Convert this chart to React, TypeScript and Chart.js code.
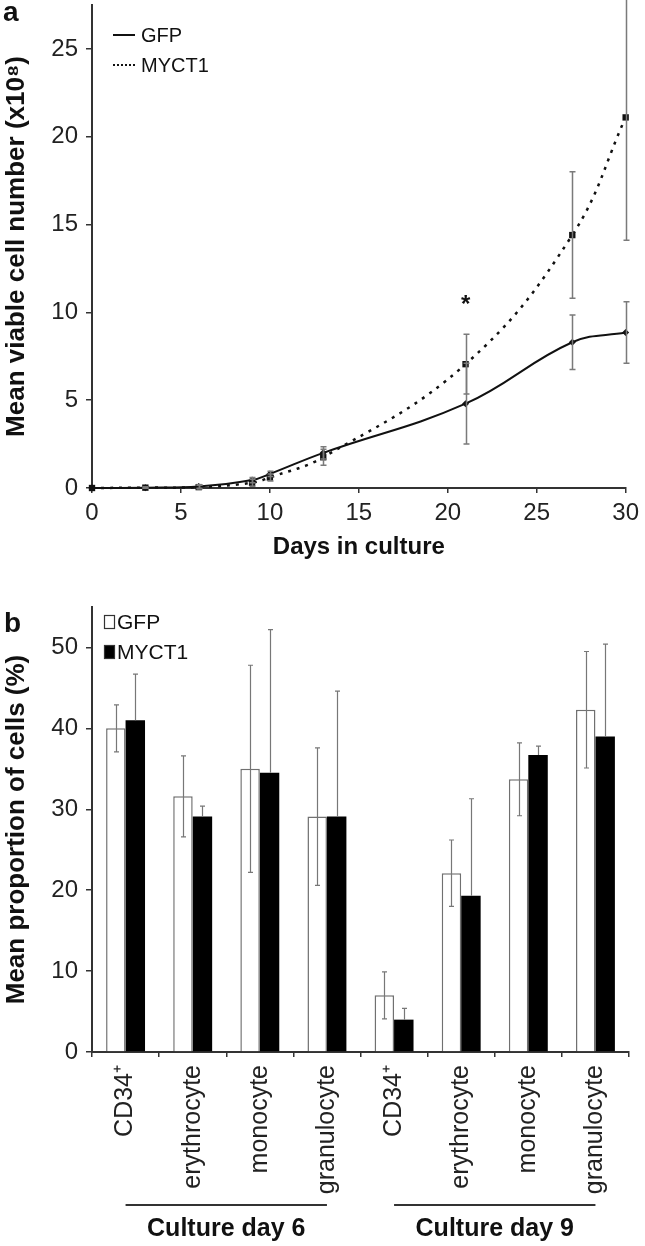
import React, { useEffect, useRef } from 'react';
import { Chart, registerables } from 'chart.js';

Chart.register(...registerables);

const FONT = "'Liberation Sans', Arial, Helvetica, sans-serif";

// ---------- Panel a data ----------
const days = [0, 3, 6, 9, 10, 13, 21, 27, 30];
const gfpCells = [0, 0.02, 0.08, 0.45, 0.8, 2.0, 4.8, 8.3, 8.85];
const gfpCellsErr = [0, 0.03, 0.1, 0.15, 0.15, 0.35, 2.3, 1.55, 1.75];
const myctCells = [0, 0.02, 0.05, 0.3, 0.6, 1.75, 7.05, 14.4, 21.1];
const myctCellsErr = [0, 0.03, 0.1, 0.2, 0.2, 0.45, 1.7, 3.6, 7.0];
const starDays = [21];
const starValues = [10.6];
const cellTicksY = [0, 5, 10, 15, 20, 25];
const dayTicks = [0, 5, 10, 15, 20, 25, 30];

// ---------- Panel b data ----------
const cellTypes = ['CD34⁺', 'erythrocyte', 'monocyte', 'granulocyte', 'CD34⁺', 'erythrocyte', 'monocyte', 'granulocyte'];
const groupNames = ['Culture day 6', 'Culture day 9'];
const groupStart = [0, 4];
const groupEnd = [3, 7];
const gfpProp = [40.0, 31.6, 35.0, 29.1, 7.0, 22.1, 33.7, 42.3];
const gfpPropErr = [2.9, 5.0, 12.8, 8.5, 2.9, 4.1, 4.5, 7.2];
const myctProp = [41.0, 29.1, 34.5, 29.1, 4.0, 19.3, 36.7, 39.0];
const myctPropErr = [5.7, 1.3, 17.7, 15.5, 1.4, 12.0, 1.1, 11.4];
const propTicksY = [0, 10, 20, 30, 40, 50];

const errorBarPlugin = {
  id: 'errorBars',
  afterDatasetsDraw(chart: any) {
    const ctx = chart.ctx;
    chart.data.datasets.forEach((ds: any, i: number) => {
      const errs = ds.errors;
      if (!errs) return;
      const meta = chart.getDatasetMeta(i);
      const yScale = chart.scales[meta.yAxisID];
      ctx.save();
      ctx.strokeStyle = ds.errorColor || '#888';
      ctx.lineWidth = ds.errorWidth || 1.2;
      meta.data.forEach((el: any, j: number) => {
        const raw = ds.data[j];
        const v = typeof raw === 'number' ? raw : raw.y;
        const e = errs[j];
        if (!e) return;
        const x = Math.round(el.x) + 0.5;
        const yTop = yScale.getPixelForValue(v + e);
        const yBot = ds.errorUpOnly ? yScale.getPixelForValue(v) : yScale.getPixelForValue(v - e);
        const cap = ds.errorCap || 2.5;
        ctx.beginPath();
        ctx.moveTo(x, yTop);
        ctx.lineTo(x, yBot);
        ctx.moveTo(x - cap, yTop);
        ctx.lineTo(x + cap, yTop);
        if (!ds.errorUpOnly) {
          ctx.moveTo(x - cap, yBot);
          ctx.lineTo(x + cap, yBot);
        }
        ctx.stroke();
      });
      ctx.restore();
    });
  },
};

const overlayPlugin = {
  id: 'overlay',
  afterDraw(chart: any) {
    const o = chart.options.plugins.overlay;
    if (!o) return;
    const ctx = chart.ctx;
    const area = chart.chartArea;
    ctx.save();
    if (o.panel) {
      ctx.font = `bold 28px ${FONT}`;
      ctx.fillStyle = '#111';
      ctx.textAlign = 'left';
      ctx.textBaseline = 'alphabetic';
      ctx.fillText(o.panel.text, o.panel.x, o.panel.y);
    }
    if (o.legend) {
      const L = o.legend;
      chart.data.datasets.forEach((ds: any, i: number) => {
        const cy = L.y + i * L.gap;
        const x0 = area.left + L.dx;
        if (L.kind === 'line') {
          ctx.strokeStyle = '#111';
          ctx.lineWidth = 2;
          ctx.setLineDash(ds.borderDash ? [2, 2] : []);
          ctx.beginPath();
          ctx.moveTo(x0, cy);
          ctx.lineTo(x0 + L.sample, cy);
          ctx.stroke();
          ctx.setLineDash([]);
        } else {
          ctx.fillStyle = ds.backgroundColor;
          ctx.fillRect(x0, cy - 7, 11, 14);
          ctx.strokeStyle = '#333';
          ctx.lineWidth = 1.2;
          ctx.strokeRect(x0 + 0.5, cy - 6.5, 10, 13);
        }
        ctx.fillStyle = '#111';
        ctx.font = `${L.size}px ${FONT}`;
        ctx.textAlign = 'left';
        ctx.textBaseline = 'middle';
        ctx.fillText(ds.label, x0 + L.sample + L.textGap, cy + 1);
      });
    }
    if (o.stars) {
      const xs = chart.scales.x;
      const ys = chart.scales.y;
      ctx.fillStyle = '#111';
      ctx.font = `bold 24px ${FONT}`;
      ctx.textAlign = 'center';
      ctx.textBaseline = 'middle';
      o.stars.forEach((s: any) => {
        ctx.fillText('*', xs.getPixelForValue(s.x), ys.getPixelForValue(s.y) + 4);
      });
    }
    if (o.groups) {
      const xs = chart.scales.x;
      o.groups.forEach((g: any) => {
        const x0 = xs.getPixelForValue(g.start);
        const x1 = xs.getPixelForValue(g.end);
        ctx.strokeStyle = '#333';
        ctx.lineWidth = 2;
        ctx.beginPath();
        ctx.moveTo(x0, area.bottom + o.groupLineDy);
        ctx.lineTo(x1, area.bottom + o.groupLineDy);
        ctx.stroke();
        ctx.fillStyle = '#111';
        ctx.font = `bold 25px ${FONT}`;
        ctx.textAlign = 'center';
        ctx.textBaseline = 'middle';
        ctx.fillText(g.name, (x0 + x1) / 2, area.bottom + o.groupTextDy);
      });
    }
    ctx.restore();
  },
};

const tickFont = { size: 24, family: FONT };
const catFont = { size: 25, family: FONT };
const titleFont = { size: 24, weight: 'bold' as const, family: FONT };
const yTitleFont = { size: 26, weight: 'bold' as const, family: FONT };

function LineChart() {
  const ref = useRef<HTMLCanvasElement>(null);
  useEffect(() => {
    const chart = new Chart(ref.current as HTMLCanvasElement, {
      type: 'line',
      data: {
        datasets: [
          {
            label: 'GFP',
            data: days.map((d, i) => ({ x: d, y: gfpCells[i] })),
            borderColor: '#111',
            backgroundColor: '#111',
            borderWidth: 2,
            tension: 0.4,
            pointStyle: 'rectRot',
            pointRadius: 3.5,
            pointBackgroundColor: '#111',
            pointBorderWidth: 0,
            clip: false,
            errors: gfpCellsErr,
            errorColor: '#7a7a7a',
            errorWidth: 1.5,
            errorCap: 3,
          } as any,
          {
            label: 'MYCT1',
            data: days.map((d, i) => ({ x: d, y: myctCells[i] })),
            borderColor: '#111',
            backgroundColor: '#111',
            borderWidth: 2.5,
            borderDash: [3, 6],
            tension: 0.4,
            pointStyle: 'rect',
            pointRadius: 4.5,
            pointBackgroundColor: '#111',
            pointBorderWidth: 0,
            clip: false,
            errors: myctCellsErr,
            errorColor: '#7a7a7a',
            errorWidth: 1.5,
            errorCap: 3,
          } as any,
        ],
      },
      options: {
        animation: false,
        responsive: false,
        events: [],
        layout: { padding: { top: 5, right: 16, left: 0, bottom: 0 } },
        plugins: {
          legend: { display: false },
          tooltip: { enabled: false },
          overlay: {
            panel: { text: 'a', x: 3, y: 21 },
            legend: { kind: 'line', dx: 21, y: 35, gap: 30, sample: 22, textGap: 6, size: 20 },
            stars: starDays.map((d, i) => ({ x: d, y: starValues[i] })),
          },
        } as any,
        scales: {
          x: {
            type: 'linear',
            min: 0,
            max: 30,
            afterBuildTicks: (s: any) => { s.ticks = dayTicks.map((v) => ({ value: v })); },
            ticks: { font: tickFont, color: '#222', padding: 6, maxRotation: 0 },
            grid: { drawOnChartArea: false, drawTicks: true, tickLength: 5, color: '#333', lineWidth: 1.5 },
            border: { color: '#333', width: 2 },
            title: { display: true, text: 'Days in culture', font: titleFont, color: '#111', padding: { top: 0, bottom: 8 } },
            afterFit: (s: any) => { s.height = 82; },
          },
          y: {
            min: 0,
            max: 27.5,
            afterBuildTicks: (s: any) => { s.ticks = cellTicksY.map((v) => ({ value: v })); },
            ticks: { font: tickFont, color: '#222', padding: 8 },
            grid: { drawOnChartArea: false, drawTicks: true, tickLength: 6, color: '#333', lineWidth: 1.5 },
            border: { color: '#333', width: 2 },
            title: { display: true, text: 'Mean viable cell number (x10⁸)', font: yTitleFont, color: '#111', padding: { top: 1, bottom: 0 } },
            afterFit: (s: any) => { s.width = 92; s.paddingTop = 0; s.paddingBottom = 0; },
          },
        },
      },
      plugins: [errorBarPlugin, overlayPlugin],
    });
    return () => chart.destroy();
  }, []);
  return <canvas ref={ref} width={645} height={570} style={{ display: 'block', position: 'absolute', left: 0, top: 0 }} />;
}

function BarChart() {
  const ref = useRef<HTMLCanvasElement>(null);
  useEffect(() => {
    const chart = new Chart(ref.current as HTMLCanvasElement, {
      type: 'bar',
      data: {
        labels: cellTypes,
        datasets: [
          {
            label: 'GFP',
            data: gfpProp,
            backgroundColor: '#ffffff',
            borderColor: '#707070',
            borderWidth: { top: 1.5, left: 1.5, right: 1.5, bottom: 0 },
            borderSkipped: false,
            categoryPercentage: 0.58,
            barPercentage: 1.0,
            errors: gfpPropErr,
            errorColor: '#777',
            errorWidth: 1.2,
            errorCap: 2.5,
          } as any,
          {
            label: 'MYCT1',
            data: myctProp,
            backgroundColor: '#000000',
            borderWidth: 0,
            categoryPercentage: 0.58,
            barPercentage: 1.0,
            errors: myctPropErr,
            errorUpOnly: true,
            errorColor: '#777',
            errorWidth: 1.2,
            errorCap: 2.5,
          } as any,
        ],
      },
      options: {
        animation: false,
        responsive: false,
        events: [],
        layout: { padding: { top: 37, right: 16, left: 0, bottom: 0 } },
        plugins: {
          legend: { display: false },
          tooltip: { enabled: false },
          overlay: {
            panel: { text: 'b', x: 4, y: 62 },
            legend: { kind: 'box', dx: 12, y: 52, gap: 30, sample: 11, textGap: 2, size: 21 },
            groups: groupNames.map((n, i) => ({ name: n, start: groupStart[i], end: groupEnd[i] })),
            groupLineDy: 153,
            groupTextDy: 177,
          },
        } as any,
        scales: {
          x: {
            ticks: { font: catFont, color: '#222', padding: 8, autoSkip: false, minRotation: 90, maxRotation: 90 },
            grid: { drawOnChartArea: false, drawTicks: true, tickLength: 5, color: '#333', lineWidth: 1.5, offset: true },
            border: { color: '#333', width: 2 },
            afterFit: (s: any) => { s.height = 194; },
          },
          y: {
            min: 0,
            max: 55,
            afterBuildTicks: (s: any) => { s.ticks = propTicksY.map((v) => ({ value: v })); },
            ticks: { font: tickFont, color: '#222', padding: 8 },
            grid: { drawOnChartArea: false, drawTicks: true, tickLength: 6, color: '#333', lineWidth: 1.5 },
            border: { color: '#333', width: 2 },
            title: { display: true, text: 'Mean proportion of cells (%)', font: yTitleFont, color: '#111', padding: { top: 1, bottom: 0 } },
            afterFit: (s: any) => { s.width = 92; },
          },
        },
      },
      plugins: [errorBarPlugin, overlayPlugin],
    });
    return () => chart.destroy();
  }, []);
  return <canvas ref={ref} width={645} height={676} style={{ display: 'block', position: 'absolute', left: 0, top: 570 }} />;
}

export default function App() {
  return (
    <div style={{ position: 'absolute', left: 0, top: 0, width: 645, height: 1246, background: '#fff', overflow: 'hidden' }}>
      <LineChart />
      <BarChart />
    </div>
  );
}
